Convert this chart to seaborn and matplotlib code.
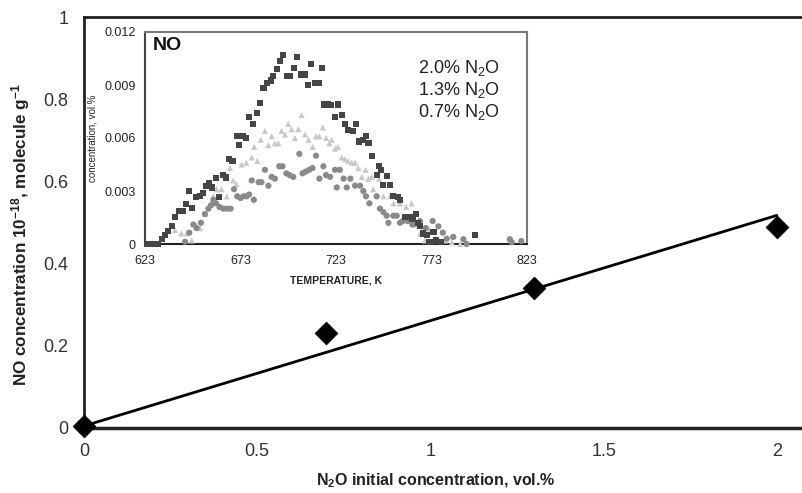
import numpy as np
import pandas as pd
import matplotlib
matplotlib.use("Agg")
import matplotlib.pyplot as plt
import seaborn as sns

# ---------------- data ----------------
n2o_initial = [0.0, 0.7, 1.3, 2.0]          # vol.%
no_conc = [0.005, 0.23, 0.34, 0.49]         # 10^-18 molecule/g

main_xticks = [0, 0.5, 1, 1.5, 2]
main_xticklabels = ["0", "0.5", "1", "1.5", "2"]
main_yticks = [0, 0.2, 0.4, 0.6, 0.8, 1.0]
main_yticklabels = ["0", "0.2", "0.4", "0.6", "0.8", "1"]

inset_xticks = [623, 673, 723, 773, 823]
inset_yticks = [0, 0.003, 0.006, 0.009, 0.012]
inset_yticklabels = ["0", "0.003", "0.006", "0.009", "0.012"]

series_labels = ["2.0% N$_2$O", "1.3% N$_2$O", "0.7% N$_2$O"]

sq_T = [624, 626, 628, 630, 631.7, 633.5, 635.2, 637, 638.7, 641, 642.7, 644.5, 646, 647.8,
        649.5, 651.8, 653.2, 655, 656.7, 658, 660, 661.9, 663.7, 665.4, 667, 668.8, 671, 672.4,
        674.5, 676, 677.5, 679.4, 681.5, 683.2, 685, 687, 688.8, 690.2, 692, 693.7, 695.4, 697.5,
        699, 701, 702.7, 704.7, 706.5, 708.2, 710, 712, 714, 715.5, 716.9, 718.6, 720.5, 722.5,
        724, 726, 727.7, 729.4, 731.7, 733.5, 735.2, 737, 738.7, 740, 741.7, 744.3, 745.5, 746.5,
        747.8, 749.8, 751.3, 753, 755.6, 756.5, 759, 761.7, 763, 764.9, 766, 767, 768.7, 770.5,
        772, 774, 775.5, 778, 795.8]
sq_C = [0, 0, 0, 0, 0.0003, 0.0005, 0.00074, 0.001, 0.00155, 0.00187, 0.00187, 0.00225, 0.003,
        0.00206, 0.00268, 0.0027, 0.0029, 0.0033, 0.00344, 0.0032, 0.00375, 0.00264, 0.0039,
        0.00377, 0.0048, 0.0047, 0.0061, 0.0056, 0.0061, 0.006, 0.0072, 0.0068, 0.0074, 0.008,
        0.00885, 0.0091, 0.00925, 0.0095, 0.0099, 0.01038, 0.0107, 0.0095, 0.0095, 0.00994,
        0.01057, 0.0096, 0.0096, 0.009, 0.0102, 0.0091, 0.0091, 0.00998, 0.0079, 0.0079, 0.00787,
        0.0072, 0.0079, 0.0073, 0.0068, 0.00645, 0.0064, 0.0068, 0.0058, 0.0059, 0.0061, 0.0057,
        0.005, 0.0039, 0.0044, 0.0042, 0.00334, 0.00385, 0.00334, 0.0027, 0.00268, 0.0025,
        0.00155, 0.00155, 0.0014, 0.00168, 0.0012, 0.001, 0.0006, 0.0005, 0.00013, 0.0007,
        0.0002, 0.00013, 0.0005]

tr_T = [638.7, 642, 644.8, 647.4, 650, 651.8, 654.4, 657, 658.8, 660.5, 663, 665.8, 667.5,
        669.2, 670.9, 673.6, 676, 678.9, 680.2, 681.8, 683.6, 685.8, 687.6, 689.3, 691, 692.8,
        694.5, 696.3, 698, 699.8, 701.5, 703.3, 705, 706.8, 708.6, 710.8, 712.5, 714.3, 716,
        717.8, 719.5, 720.7, 722.5, 724, 726, 727.7, 729.4, 731.2, 733, 734.7, 736.5, 738.5, 740,
        741.7, 742.5, 745.5, 747.8, 751.3, 753, 756.5, 759.7, 762.6, 765, 767, 769.6, 772, 775,
        780, 783.6, 788]
tr_C = [0.0008, 0.0006, 0.0006, 0.0002, 0.001, 0.0009, 0.0017, 0.0022, 0.0027, 0.0031, 0.0031,
        0.0027, 0.0043, 0.0036, 0.0034, 0.0045, 0.0046, 0.0049, 0.0055, 0.0047, 0.0059, 0.0064,
        0.0056, 0.0061, 0.0057, 0.0057, 0.0064, 0.0062, 0.0068, 0.0065, 0.006, 0.0065, 0.0073,
        0.0062, 0.0059, 0.0055, 0.0061, 0.0061, 0.0066, 0.006, 0.0057, 0.0059, 0.0054, 0.0055,
        0.0049, 0.0048, 0.0047, 0.0046, 0.0046, 0.0043, 0.0038, 0.0042, 0.0037, 0.0038, 0.0031,
        0.0037, 0.0027, 0.0027, 0.0023, 0.0023, 0.0021, 0.0023, 0.0011, 0.0006, 0.0002, 0.0008,
        0.0003, 0.0002, 0.0001, 0.0]

ci_T = [644, 646.2, 648.3, 650, 652.3, 654.4, 656.2, 657.6, 658.8, 660.2, 662, 664, 666, 667.8,
        669.6, 671.3, 673, 674.6, 676.2, 677.5, 678.9, 680, 682.5, 684, 685.8, 687.6, 689.3, 691,
        693.3, 695, 697, 698.7, 700.6, 703.8, 705.5, 707.2, 709, 710.7, 712.5, 714.3, 716.4,
        717.8, 719.9, 722.5, 723.4, 725, 727, 728.6, 730.5, 733, 735.6, 737.3, 738.7, 740.5,
        744.3, 746, 747.8, 749.5, 750.4, 753, 754.8, 756.5, 758, 760.6, 763, 767, 770, 773.6,
        776.6, 778.9, 781, 784.4, 789.7, 791.4, 814, 815, 820]
ci_C = [0.00013, 0.00064, 0.0011, 0.0009, 0.0012, 0.0017, 0.002, 0.0022, 0.0025, 0.0023, 0.0021,
        0.002, 0.002, 0.002, 0.0031, 0.0027, 0.0026, 0.0027, 0.0027, 0.0028, 0.0036, 0.0025,
        0.0035, 0.0035, 0.0042, 0.0033, 0.0038, 0.0037, 0.0044, 0.0044, 0.004, 0.0039, 0.0038,
        0.0051, 0.004, 0.0041, 0.0042, 0.0043, 0.005, 0.0037, 0.0044, 0.0039, 0.0038, 0.0042,
        0.0032, 0.0042, 0.0037, 0.0032, 0.0037, 0.0033, 0.0033, 0.003, 0.0027, 0.0023, 0.0027,
        0.002, 0.0018, 0.0016, 0.0012, 0.0016, 0.0016, 0.0012, 0.0013, 0.0013, 0.0011, 0.0013,
        0.0009, 0.0013, 0.001, 0.00064, 0.0003, 0.0004, 0.00027, 0.0, 0.00027, 0.0001, 0.00017]

# ---------------- style ----------------
sns.set_style("white")
plt.rcParams["font.family"] = ["Liberation Sans", "DejaVu Sans"]
plt.rcParams["mathtext.fontset"] = "custom"
plt.rcParams["mathtext.rm"] = "Liberation Sans"
plt.rcParams["mathtext.bf"] = "Liberation Sans:bold"
plt.rcParams["mathtext.it"] = "Liberation Sans:italic"

W, H = 803, 493
fig = plt.figure(figsize=(W / 100, H / 100), dpi=100)
fig.patch.set_facecolor("white")

# ---------------- main axes ----------------
ax = fig.add_axes([84 / W, 65 / H, 724 / W, 411 / H])
ax.set_facecolor("white")

x_arr = np.array(n2o_initial)
y_arr = np.array(no_conc)
slope = np.sum(x_arr * y_arr) / np.sum(x_arr * x_arr)
fit_x = np.array([x_arr.min(), x_arr.max()])
sns.lineplot(x=fit_x, y=slope * fit_x + y_arr[0], color="black", lw=2.0, ax=ax, zorder=3)
sns.scatterplot(x=n2o_initial, y=no_conc, marker="D", s=135, color="black",
                edgecolor="black", linewidth=0.5, ax=ax, zorder=5, clip_on=False)

ax.set_xlim(0, 2.09)
ax.set_ylim(0, 1)
ax.set_xticks(main_xticks)
ax.set_xticklabels(main_xticklabels)
ax.set_yticks(main_yticks)
ax.set_yticklabels(main_yticklabels)
ax.tick_params(axis="both", labelsize=13, colors="#333333", length=5, width=1, direction="out",
               pad=6)
ax.tick_params(axis="x", length=4, pad=7)
for side in ["left", "top", "bottom"]:
    ax.spines[side].set_color("#222222")
ax.spines["left"].set_linewidth(2.0)
ax.spines["bottom"].set_linewidth(2.5)
ax.spines["top"].set_linewidth(2.0)
ax.spines["right"].set_visible(False)
ax.set_xlabel(r"N$_{\mathbf{2}}$O initial concentration, vol.%", fontsize=11.5,
              fontweight="bold", color="#222222")
ax.set_ylabel(r"NO concentration 10$^{\mathbf{-18}}$, molecule g$^{\mathbf{-1}}$", fontsize=12.3,
              fontweight="bold", color="#222222")
ax.xaxis.set_label_coords((436 - 84) / 724, -(472 - 428) / 411)
ax.yaxis.set_label_coords(-(84 - 32) / 724, (428 - 235) / 411)

# ---------------- inset ----------------
axi = fig.add_axes([145 / W, 249 / H, 382 / W, 212 / H])
axi.set_facecolor("white")
axi.set_zorder(10)

df = pd.concat([
    pd.DataFrame({"T": tr_T, "conc": tr_C, "series": series_labels[1]}),
    pd.DataFrame({"T": ci_T, "conc": ci_C, "series": series_labels[2]}),
    pd.DataFrame({"T": sq_T, "conc": sq_C, "series": series_labels[0]}),
], ignore_index=True)
palette = {series_labels[0]: "#454545", series_labels[1]: "#c9c9c9", series_labels[2]: "#8a8a8a"}
markers = {series_labels[0]: "s", series_labels[1]: "^", series_labels[2]: "o"}
sns.scatterplot(data=df, x="T", y="conc", hue="series", style="series", palette=palette,
                markers=markers, s=20, edgecolor="none", legend=False, ax=axi, clip_on=False,
                zorder=3)

axi.set_xlim(623, 823)
axi.set_ylim(0, 0.012)
axi.set_xticks(inset_xticks)
axi.set_xticklabels([str(t) for t in inset_xticks])
axi.set_yticks(inset_yticks)
axi.set_yticklabels(inset_yticklabels)
axi.tick_params(axis="both", labelsize=9, colors="#222222", length=3, width=1, direction="out")
axi.tick_params(axis="x", pad=5)
for side in ["top", "right"]:
    axi.spines[side].set_color("#7a7a7a")
    axi.spines[side].set_linewidth(1.5)
axi.spines["left"].set_color("#444444")
axi.spines["left"].set_linewidth(1.5)
axi.spines["bottom"].set_color("#222222")
axi.spines["bottom"].set_linewidth(1.5)
axi.set_xlabel("TEMPERATURE, K", fontsize=7.5, fontweight="bold", color="#222222", labelpad=6)
axi.set_ylabel("concentration, vol.%", fontsize=7, color="#222222", labelpad=5)

axi.text(0.02, 0.975, "NO", transform=axi.transAxes, fontsize=14, fontweight="bold",
         va="top", ha="left", color="#111111")
for i, lab in enumerate(series_labels):
    axi.text((459 - 145) / 382, 1 - (68 + 22 * i - 32) / 212, lab, transform=axi.transAxes,
             fontsize=13, ha="center", va="center", color="#222222", zorder=6)

fig.savefig("out.png", dpi=100, facecolor="white")
